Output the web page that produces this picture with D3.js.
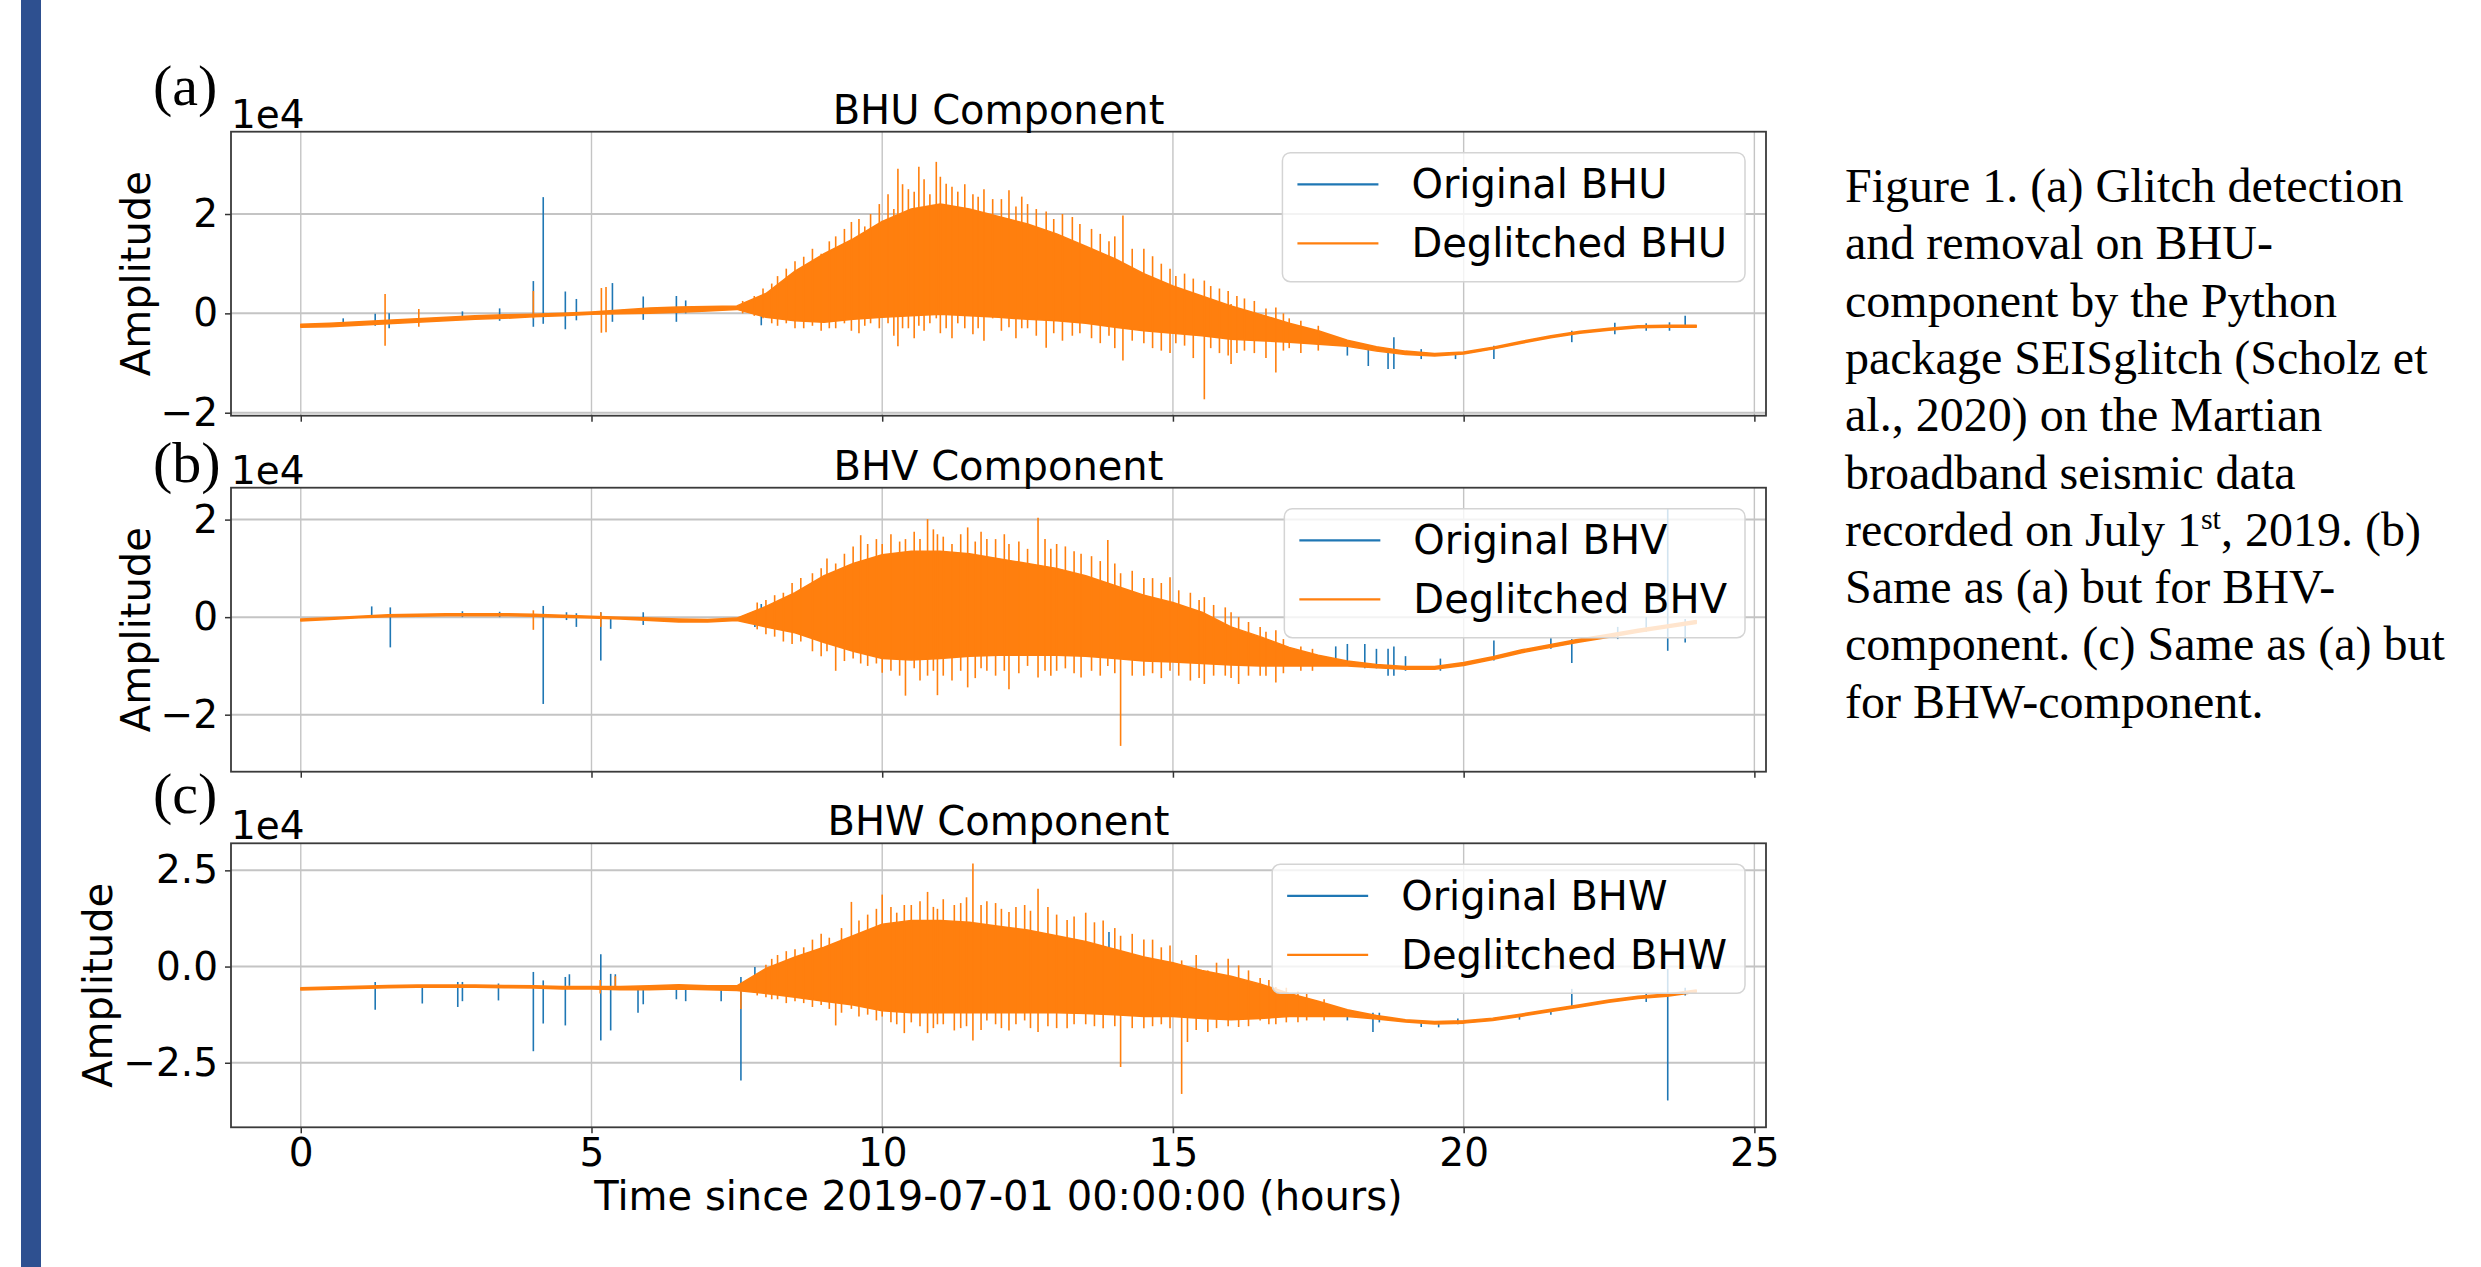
<!DOCTYPE html>
<html>
<head>
<meta charset="utf-8">
<script src="https://cdn.jsdelivr.net/npm/d3@7"></script>
<style>
  body { margin: 0; background: #fff; }
  svg text { font-family: "DejaVu Sans", sans-serif; fill: #000; }
  svg text.serif { font-family: "Liberation Serif", "Times New Roman", serif; }
</style>
</head>
<body>
<div id="figure"></div>
<script>
// time axis (hours since 2019-07-01 00:00:00), half-hour envelope samples
const hours = [0, 0.5, 1, 1.5, 2, 2.5, 3, 3.5, 4, 4.5, 5, 5.5, 6, 6.5, 7, 7.5, 8, 8.5, 9, 9.5,
  10, 10.5, 11, 11.5, 12, 12.5, 13, 13.5, 14, 14.5, 15, 15.5, 16, 16.5, 17, 17.5, 18, 18.5, 19, 19.5,
  20, 20.5, 21, 21.5, 22, 22.5, 23, 23.5, 24];

// deglitched envelope (upper / lower), amplitude in 1e4 counts
const bhuUpper = [-0.22, -0.20, -0.17, -0.14, -0.11, -0.08, -0.05, -0.03, -0.02, 0.00, 0.03, 0.07, 0.11, 0.13, 0.14, 0.15,
  0.40, 0.85, 1.20, 1.50, 1.85, 2.10, 2.20, 2.10, 1.95, 1.80, 1.60, 1.35, 1.10, 0.80, 0.55, 0.35, 0.15, -0.02, -0.20, -0.35,
  -0.54, -0.67, -0.76, -0.81, -0.78, -0.68, -0.56, -0.45, -0.36, -0.30, -0.25, -0.24, -0.24];
const bhuLower = [-0.28, -0.27, -0.24, -0.21, -0.18, -0.15, -0.12, -0.10, -0.07, -0.05, -0.02, -0.01, 0.00, 0.02, 0.05, 0.08,
  -0.08, -0.15, -0.18, -0.12, -0.08, -0.05, -0.02, -0.05, -0.08, -0.12, -0.15, -0.20, -0.28, -0.35, -0.40, -0.45, -0.52, -0.55, -0.58, -0.62,
  -0.66, -0.76, -0.83, -0.86, -0.82, -0.72, -0.60, -0.49, -0.40, -0.34, -0.29, -0.28, -0.28];

const bhvUpper = [-0.04, -0.01, 0.02, 0.05, 0.06, 0.07, 0.07, 0.07, 0.06, 0.04, 0.02, 0.00, -0.02, -0.04, -0.05, -0.02,
  0.22, 0.50, 0.85, 1.10, 1.28, 1.35, 1.35, 1.30, 1.20, 1.10, 1.00, 0.85, 0.65, 0.45, 0.30, 0.10, -0.20, -0.40, -0.62, -0.78,
  -0.90, -0.97, -1.01, -1.01, -0.93, -0.81, -0.67, -0.56, -0.45, -0.35, -0.25, -0.16, -0.07];
const bhvLower = [-0.08, -0.05, -0.01, 0.01, 0.02, 0.03, 0.03, 0.03, 0.02, 0.00, -0.02, -0.04, -0.07, -0.10, -0.10, -0.07,
  -0.20, -0.32, -0.52, -0.70, -0.85, -0.88, -0.85, -0.80, -0.78, -0.78, -0.78, -0.80, -0.85, -0.90, -0.92, -0.95, -0.98, -1.00, -1.00, -1.00,
  -1.00, -1.04, -1.07, -1.07, -0.99, -0.87, -0.73, -0.62, -0.51, -0.41, -0.31, -0.22, -0.13];

const bhwUpper = [-0.55, -0.53, -0.51, -0.49, -0.48, -0.48, -0.48, -0.49, -0.50, -0.52, -0.52, -0.52, -0.50, -0.47, -0.50, -0.50,
  -0.05, 0.25, 0.50, 0.80, 1.10, 1.20, 1.20, 1.15, 1.05, 0.95, 0.80, 0.65, 0.45, 0.25, 0.10, -0.10, -0.25, -0.45, -0.70, -0.90,
  -1.12, -1.27, -1.38, -1.43, -1.41, -1.34, -1.23, -1.11, -0.99, -0.87, -0.77, -0.71, -0.61];
const bhwLower = [-0.61, -0.59, -0.57, -0.55, -0.54, -0.54, -0.54, -0.55, -0.56, -0.58, -0.58, -0.60, -0.60, -0.58, -0.60, -0.62,
  -0.70, -0.80, -0.90, -1.00, -1.15, -1.20, -1.20, -1.20, -1.20, -1.20, -1.20, -1.22, -1.25, -1.30, -1.30, -1.35, -1.38, -1.35, -1.30, -1.30,
  -1.30, -1.36, -1.44, -1.49, -1.47, -1.40, -1.29, -1.17, -1.05, -0.93, -0.83, -0.77, -0.67];

// single deglitched spikes [hour, top, bottom]
const bhuSpikes = [[1.45, 0.39, -0.65], [2.03, 0.09, -0.27], [4.0, 0.45, -0.1], [5.17, 0.51, -0.39], [5.25, 0.53, -0.38],
  [7.6, 0.25, 0.0], [7.8, 0.35, -0.05], [7.95, 0.5, -0.1], [8.1, 0.6, -0.2], [8.2, 0.75, -0.25], [8.35, 0.9, -0.2],
  [8.5, 1.05, -0.3], [8.65, 1.14, -0.3], [8.8, 1.3, -0.25], [8.95, 1.2, -0.35], [9.09, 1.45, -0.3], [9.2, 1.55, -0.3],
  [9.35, 1.7, -0.2], [9.47, 1.84, -0.35], [9.6, 1.9, -0.4], [9.7, 1.75, -0.25], [9.8, 2.0, -0.2], [9.95, 2.2, -0.3],
  [10.1, 2.4, -0.2], [10.2, 2.1, -0.45], [10.27, 2.91, -0.66], [10.35, 2.6, -0.3], [10.45, 2.5, -0.3], [10.55, 2.45, -0.5],
  [10.63, 2.95, -0.25], [10.72, 2.7, -0.35], [10.82, 2.4, -0.2], [10.93, 3.05, -0.1], [11.0, 2.75, -0.4], [11.1, 2.61, -0.3],
  [11.2, 2.55, -0.5], [11.3, 2.45, -0.2], [11.42, 2.6, -0.3], [11.56, 2.4, -0.42], [11.65, 2.35, -0.3], [11.75, 2.5, -0.55],
  [11.9, 2.3, -0.1], [12.05, 2.3, -0.35], [12.18, 2.48, -0.28], [12.3, 2.15, -0.5], [12.4, 2.35, -0.3], [12.5, 2.2, -0.3],
  [12.65, 2.1, -0.45], [12.82, 2.05, -0.69], [12.95, 1.9, -0.4], [13.1, 2.0, -0.55], [13.27, 1.94, -0.45], [13.4, 1.8, -0.4],
  [13.6, 1.7, -0.5], [13.75, 1.6, -0.6], [13.9, 1.45, -0.45], [14.0, 1.55, -0.7], [14.14, 1.97, -0.95], [14.3, 1.3, -0.55],
  [14.5, 1.3, -0.6], [14.65, 1.15, -0.7], [14.8, 1.0, -0.75], [14.95, 0.9, -0.8], [15.05, 0.75, -0.6], [15.2, 0.8, -0.65],
  [15.35, 0.7, -0.9], [15.54, 0.66, -1.73], [15.65, 0.55, -0.7], [15.8, 0.5, -0.8], [15.95, 0.45, -0.85], [16.0, 0.19, -1.02],
  [16.1, 0.35, -0.8], [16.23, 0.3, -0.75], [16.4, 0.25, -0.8], [16.6, 0.1, -0.9], [16.77, 0.12, -1.19], [16.9, 0.0, -0.75],
  [17.0, -0.1, -0.7], [17.2, -0.15, -0.8], [17.5, -0.25, -0.75]];
const bhvSpikes = [[4.0, 0.14, -0.26], [5.16, 0.1, -0.2], [7.85, 0.3, -0.25], [8.0, 0.35, -0.35], [8.15, 0.45, -0.4],
  [8.3, 0.5, -0.5], [8.45, 0.7, -0.55], [8.6, 0.8, -0.5], [8.8, 0.9, -0.7], [8.95, 1.0, -0.8], [9.05, 1.2, -0.7],
  [9.2, 1.1, -1.1], [9.35, 1.3, -0.9], [9.5, 1.45, -0.85], [9.63, 1.68, -0.95], [9.75, 1.5, -1.0], [9.9, 1.6, -0.95],
  [10.0, 1.5, -1.14], [10.15, 1.7, -1.1], [10.3, 1.55, -1.2], [10.4, 1.6, -1.61], [10.55, 1.75, -1.05], [10.65, 1.6, -1.3],
  [10.78, 2.01, -1.2], [10.88, 1.8, -1.1], [10.95, 1.7, -1.6], [11.05, 1.65, -1.2], [11.2, 1.5, -1.3], [11.35, 1.7, -1.1],
  [11.47, 1.84, -1.44], [11.6, 1.55, -1.25], [11.7, 1.75, -1.05], [11.8, 1.6, -1.1], [11.95, 1.6, -1.2], [12.1, 1.7, -1.1],
  [12.18, 1.5, -1.48], [12.35, 1.55, -1.15], [12.5, 1.4, -1.0], [12.68, 2.04, -1.24], [12.8, 1.6, -1.1], [12.9, 1.4, -1.2],
  [13.0, 1.5, -1.1], [13.15, 1.45, -1.05], [13.3, 1.35, -1.15], [13.42, 1.3, -1.24], [13.6, 1.25, -1.1], [13.75, 1.15, -1.2],
  [13.88, 1.58, -1.0], [14.0, 1.1, -1.15], [14.1, 0.9, -2.64], [14.3, 0.95, -1.2], [14.5, 0.8, -1.2], [14.65, 0.8, -1.15],
  [14.8, 0.7, -1.25], [14.95, 0.82, -1.1], [15.1, 0.55, -1.2], [15.3, 0.5, -1.3], [15.45, 0.35, -1.25], [15.54, 0.41, -1.37],
  [15.7, 0.25, -1.2], [15.9, 0.2, -1.2], [16.0, 0.1, -1.25], [16.13, 0.0, -1.37], [16.3, -0.1, -1.2], [16.5, -0.2, -1.2],
  [16.6, -0.3, -1.2], [16.77, -0.27, -1.34], [16.9, -0.45, -1.15], [17.2, -0.6, -1.1], [17.4, -0.65, -1.1]];
const bhwSpikes = [[5.15, -0.35, -0.7], [5.41, -0.25, -0.55], [7.57, -0.5, -1.1], [7.85, -0.2, -0.75], [8.0, 0.05, -0.8],
  [8.1, 0.2, -0.85], [8.2, 0.3, -0.85], [8.35, 0.4, -0.95], [8.5, 0.45, -0.9], [8.65, 0.5, -0.95], [8.8, 0.7, -1.05],
  [8.95, 0.85, -1.0], [9.09, 0.75, -1.1], [9.2, 0.6, -1.53], [9.3, 1.0, -1.2], [9.47, 1.68, -1.1], [9.6, 1.2, -1.3],
  [9.75, 1.35, -1.25], [9.9, 1.5, -1.4], [10.0, 1.87, -1.3], [10.15, 1.55, -1.45], [10.25, 1.4, -1.5], [10.38, 1.6, -1.73],
  [10.5, 1.6, -1.45], [10.65, 1.7, -1.55], [10.78, 1.94, -1.73], [10.88, 1.55, -1.6], [10.95, 1.5, -1.5], [11.05, 1.75, -1.5],
  [11.24, 1.6, -1.66], [11.35, 1.65, -1.6], [11.45, 1.8, -1.55], [11.56, 2.68, -1.92], [11.7, 1.6, -1.65], [11.8, 1.7, -1.4],
  [11.95, 1.65, -1.5], [12.05, 1.5, -1.6], [12.18, 1.42, -1.66], [12.3, 1.55, -1.5], [12.45, 1.6, -1.4], [12.55, 1.45, -1.6],
  [12.68, 2.02, -1.7], [12.85, 1.55, -1.55], [13.0, 1.35, -1.6], [13.18, 1.21, -1.6], [13.3, 1.3, -1.5], [13.5, 1.4, -1.5],
  [13.65, 1.15, -1.55], [13.8, 1.2, -1.6], [14.0, 1.0, -1.55], [14.1, 0.8, -2.61], [14.3, 0.85, -1.6], [14.5, 0.7, -1.6],
  [14.65, 0.7, -1.55], [14.8, 0.5, -1.5], [14.95, 0.55, -1.6], [15.15, 0.16, -3.31], [15.25, 0.0, -1.96], [15.4, 0.3, -1.65],
  [15.6, -0.1, -1.7], [15.75, 0.1, -1.6], [15.95, 0.2, -1.55], [16.13, 0.03, -1.57], [16.3, -0.1, -1.55], [16.5, -0.3, -1.4],
  [16.65, -0.35, -1.5], [16.77, -0.53, -1.5], [16.95, -0.55, -1.45], [17.15, -0.65, -1.45], [17.3, -0.7, -1.4], [17.6, -0.85, -1.4]];

// glitches only in the original record [hour, top, bottom]
const bhuGlitches = [[0.73, -0.1, -0.25], [1.28, -0.01, -0.25], [1.52, 0.0, -0.3], [2.78, 0.04, -0.08], [3.42, 0.1, -0.15],
  [4.0, 0.65, -0.27], [4.17, 2.34, -0.21], [4.55, 0.44, -0.32], [4.74, 0.29, -0.14], [5.36, 0.61, -0.17], [5.89, 0.34, -0.13],
  [6.46, 0.35, -0.17], [6.62, 0.26, 0.0], [7.92, 0.12, -0.24], [18.0, -0.65, -0.85], [18.36, -0.72, -1.06], [18.7, -0.75, -1.12],
  [18.8, -0.48, -1.12], [19.27, -0.72, -0.92], [19.86, -0.8, -0.92], [20.52, -0.65, -0.92], [21.86, -0.35, -0.58],
  [22.6, -0.19, -0.42], [23.14, -0.2, -0.35], [23.54, -0.18, -0.35], [23.81, -0.05, -0.28]];
const bhvGlitches = [[1.22, 0.22, 0.0], [1.54, 0.2, -0.62], [2.78, 0.12, 0.0], [3.42, 0.11, 0.0], [4.17, 0.23, -1.78],
  [4.57, 0.1, -0.06], [4.74, 0.08, -0.2], [5.16, 0.1, -0.89], [5.33, 0.0, -0.24], [5.89, 0.1, -0.16], [7.81, 0.0, -0.2],
  [7.92, 0.27, -0.14], [17.8, -0.6, -1.0], [18.0, -0.55, -1.0], [18.3, -0.55, -1.05], [18.5, -0.65, -1.05], [18.7, -0.65, -1.2],
  [18.8, -0.6, -1.2], [19.0, -0.8, -1.1], [19.6, -0.85, -1.1], [20.52, -0.48, -0.89], [21.5, -0.41, -0.65], [21.86, -0.45, -0.94],
  [22.65, -0.2, -0.45], [23.14, 0.0, -0.3], [23.51, 2.23, -0.69], [23.81, -0.04, -0.52]];
const bhwGlitches = [[1.28, -0.4, -1.12], [2.09, -0.48, -0.96], [2.7, -0.4, -1.05], [2.78, -0.4, -0.9], [3.4, -0.44, -0.88],
  [4.0, -0.14, -2.2], [4.17, -0.36, -1.48], [4.55, -0.27, -1.53], [4.62, -0.2, -0.5], [5.16, 0.32, -1.92], [5.33, -0.19, -1.66],
  [5.41, -0.2, -0.55], [5.8, -0.53, -1.2], [5.89, -0.6, -0.98], [6.46, -0.55, -0.85], [6.62, -0.6, -0.9], [7.23, -0.56, -0.9],
  [7.57, -0.27, -2.96], [7.81, -0.01, -0.36], [13.9, 0.9, 0.1], [18.0, -1.13, -1.4], [18.44, -1.2, -1.7], [18.55, -1.2, -1.45],
  [19.27, -1.4, -1.57], [19.57, -1.45, -1.58], [19.9, -1.35, -1.5], [20.96, -1.25, -1.38], [21.5, -1.1, -1.25],
  [21.86, -0.58, -1.05], [23.14, -0.7, -0.92], [23.51, -0.06, -3.48], [23.81, -0.55, -0.75]];

const xTicks = [0, 5, 10, 15, 20, 25];
const components = ["BHU", "BHV", "BHW"];
const panelLabels = ["(a)", "(b)", "(c)"];
const yTicks = [[-2, 0, 2], [-2, 0, 2], [-2.5, 0, 2.5]];
const yDomains = [[-2.06, 3.657], [-3.169, 2.654], [-4.177, 3.203]];

const captionLines = [
  "Figure 1. (a) Glitch detection",
  "and removal on BHU-",
  "component by the Python",
  "package SEISglitch (Scholz et",
  "al., 2020) on the Martian",
  "broadband seismic data",
  "recorded on July 1|st|, 2019. (b)",
  "Same as (a) but for BHV-",
  "component. (c) Same as (a) but",
  "for BHW-component."
];

const width = 2481, height = 1267;
const blue = "#1f77b4", orange = "#ff7f0e";
const left = 231, right = 1766, panelH = 284;
const panelTops = [131.7, 487.7, 843.3];
const labelBase = [105, 482, 813];
const ylabelX = [150, 150, 112];

const series = [
  {upper: bhuUpper, lower: bhuLower, spikes: bhuSpikes, glitches: bhuGlitches},
  {upper: bhvUpper, lower: bhvLower, spikes: bhvSpikes, glitches: bhvGlitches},
  {upper: bhwUpper, lower: bhwLower, spikes: bhwSpikes, glitches: bhwGlitches}
];

const svg = d3.select("#figure")
  .append("svg")
  .attr("width", width)
  .attr("height", height);

svg.append("rect").attr("width", width).attr("height", height).attr("fill", "#fff");
svg.append("rect")
  .attr("x", 21).attr("y", 0)
  .attr("width", 20).attr("height", height)
  .attr("fill", "#2e5090");

const xScale = d3.scaleLinear().domain([-1.2, 25.2]).range([left, right]);

const drawPanel = (i) => {
  const top = panelTops[i];
  const s = series[i];
  const yScale = d3.scaleLinear().domain(yDomains[i]).range([top + panelH, top]);
  const g = svg.append("g");

  // grid
  g.selectAll(".vgrid").data(xTicks).join("line")
    .attr("x1", d => xScale(d)).attr("x2", d => xScale(d))
    .attr("y1", top).attr("y2", top + panelH)
    .attr("stroke", "#c4c4c4").attr("stroke-width", 1.4);
  g.selectAll(".hgrid").data(yTicks[i]).join("line")
    .attr("x1", left).attr("x2", right)
    .attr("y1", d => yScale(d)).attr("y2", d => yScale(d))
    .attr("stroke", "#c4c4c4").attr("stroke-width", 2);

  // original record glitches (under the deglitched trace)
  g.append("g").selectAll("line").data(s.glitches).join("line")
    .attr("x1", d => xScale(d[0])).attr("x2", d => xScale(d[0]))
    .attr("y1", d => yScale(d[1])).attr("y2", d => yScale(d[2]))
    .attr("stroke", blue).attr("stroke-width", 1.6);

  // deglitched trace
  const rows = d3.zip(hours, s.upper, s.lower);
  const area = d3.area()
    .x(d => xScale(d[0]))
    .y0(d => yScale(d[2]))
    .y1(d => yScale(d[1]));
  g.append("path").datum(rows)
    .attr("d", area)
    .attr("fill", orange)
    .attr("stroke", orange).attr("stroke-width", 1.5).attr("stroke-linejoin", "round");
  g.append("g").selectAll("line").data(s.spikes).join("line")
    .attr("x1", d => xScale(d[0])).attr("x2", d => xScale(d[0]))
    .attr("y1", d => yScale(d[1])).attr("y2", d => yScale(d[2]))
    .attr("stroke", orange).attr("stroke-width", 1.6);

  // axes
  const fmt = i === 2 ? d3.format(".1f") : d3.format("d");
  const yAxis = g.append("g")
    .attr("transform", `translate(${left},0)`)
    .call(d3.axisLeft(yScale).tickValues(yTicks[i]).tickFormat(fmt).tickSize(6).tickPadding(7));
  const xAxis = g.append("g")
    .attr("transform", `translate(0,${top + panelH})`)
    .call(d3.axisBottom(xScale).tickValues(xTicks).tickSize(6).tickPadding(5)
      .tickFormat(i === 2 ? d3.format("d") : () => ""));
  [yAxis, xAxis].forEach(ax => {
    ax.select(".domain").remove();
    ax.selectAll(".tick line").attr("stroke", "#333").attr("stroke-width", 1.5);
    ax.selectAll(".tick text").attr("font-size", 39).attr("font-family", "DejaVu Sans").attr("fill", "#000");
  });

  g.append("rect")
    .attr("x", left).attr("y", top)
    .attr("width", right - left).attr("height", panelH)
    .attr("fill", "none").attr("stroke", "#3a3a3a").attr("stroke-width", 1.8);

  // legend
  const legend = g.append("g");
  const box = legend.append("rect")
    .attr("y", top + 21).attr("height", 129).attr("rx", 8)
    .attr("fill", "#fff").attr("fill-opacity", 0.8)
    .attr("stroke", "#d4d4d4").attr("stroke-width", 1.5);
  const names = ["Original " + components[i], "Deglitched " + components[i]];
  const texts = legend.selectAll(".lt").data(names).join("text")
    .attr("y", (d, k) => top + 21 + 31.6 + k * 59 + 14)
    .attr("font-size", 40)
    .text(d => d);
  const tw = d3.max(texts.nodes(), n => n.getComputedTextLength());
  const boxLeft = 1745 - 18 - tw - 114 - 15;
  box.attr("x", boxLeft).attr("width", 1745 - boxLeft);
  texts.attr("x", boxLeft + 15 + 114);
  legend.selectAll(".ll").data([blue, orange]).join("line")
    .attr("x1", boxLeft + 15).attr("x2", boxLeft + 96)
    .attr("y1", (d, k) => top + 21 + 31.6 + k * 59)
    .attr("y2", (d, k) => top + 21 + 31.6 + k * 59)
    .attr("stroke", d => d).attr("stroke-width", 2.2);

  // titles and labels
  g.append("text")
    .attr("x", (left + right) / 2).attr("y", top - 8)
    .attr("text-anchor", "middle").attr("font-size", 40)
    .text(components[i] + " Component");
  g.append("text")
    .attr("x", left).attr("y", top - 4)
    .attr("font-size", 39)
    .text("1e4");
  g.append("text")
    .attr("transform", `translate(${ylabelX[i]},${top + panelH / 2}) rotate(-90)`)
    .attr("text-anchor", "middle").attr("font-size", 40)
    .text("Amplitude");
  g.append("text")
    .attr("class", "serif")
    .attr("x", 153).attr("y", labelBase[i])
    .attr("font-size", 58)
    .text(panelLabels[i]);
};

components.forEach((c, i) => drawPanel(i));

svg.append("text")
  .attr("x", (left + right) / 2).attr("y", 1210)
  .attr("text-anchor", "middle").attr("font-size", 40)
  .text("Time since 2019-07-01 00:00:00 (hours)");

// caption
const caption = svg.append("text")
  .attr("class", "serif")
  .attr("font-size", 48);
captionLines.forEach((line, k) => {
  const parts = line.split("|");
  const t = caption.append("tspan").attr("x", 1845).attr("y", 202 + k * 57.3);
  t.text(parts[0]);
  if (parts.length > 1) {
    caption.append("tspan").attr("font-size", 30).attr("dy", -17).text(parts[1]);
    caption.append("tspan").attr("dy", 17).text(parts[2]);
  }
});
</script>
</body>
</html>
